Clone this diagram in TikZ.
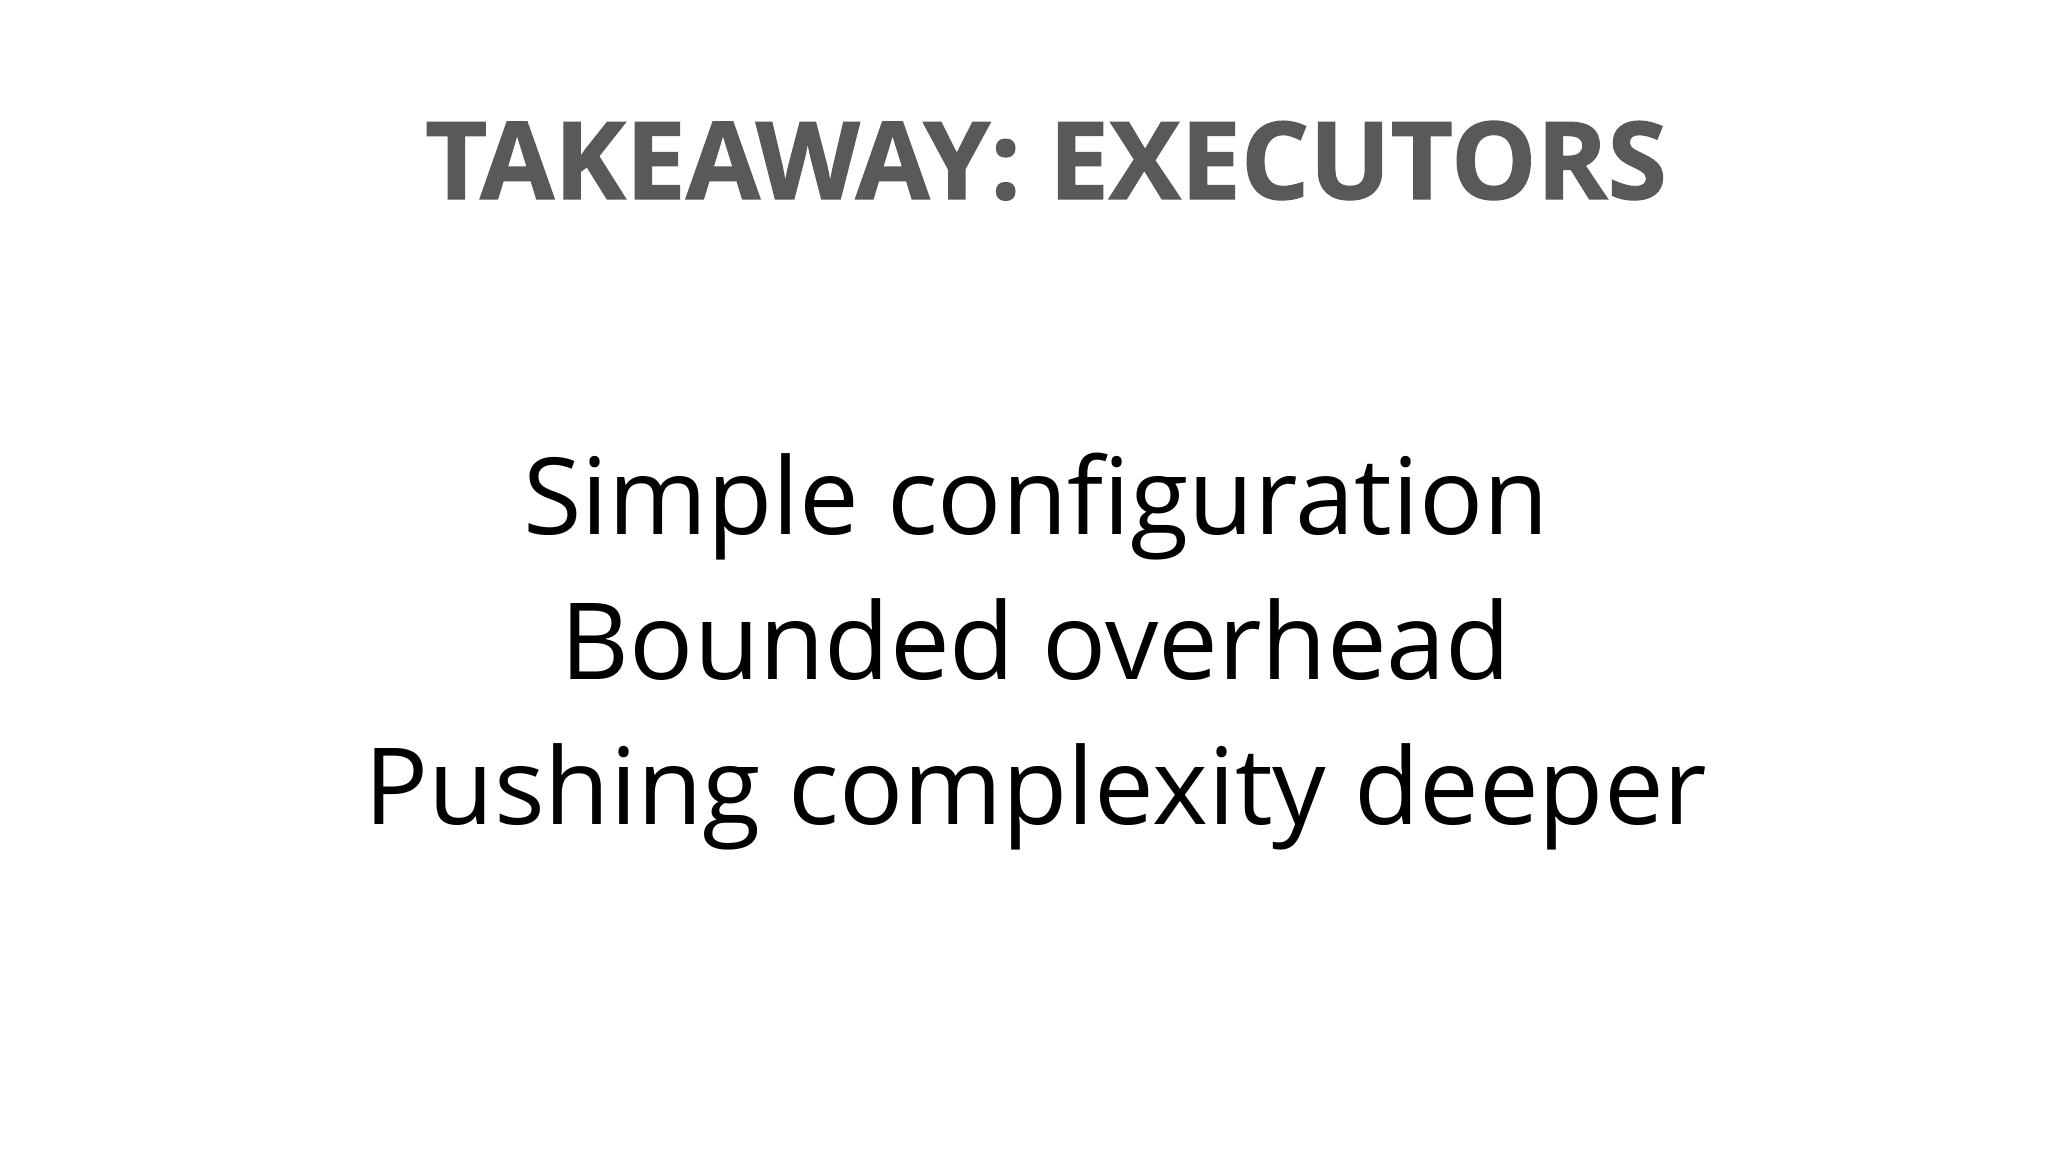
\documentclass[tikz,border=0pt]{standalone}
\usepackage{fontspec}
\setmainfont{Open Sans}
\newfontfamily\titlefont[FakeBold=1.2]{Open Sans Bold}
\definecolor{titlegray}{HTML}{595959}
\begin{document}
\begin{tikzpicture}
\useasboundingbox (0,0) rectangle (20.48,11.52);
\tikzset{titlestyle/.style={anchor=base,text=titlegray,font=\titlefont\fontsize{30.6}{36}\selectfont},
bodystyle/.style={anchor=base,text=black,font=\fontsize{30.3}{38}\selectfont}}
\node[titlestyle] (title) at (10.46,9.53) {TAKEAWAY: EXECUTORS};
\node[bodystyle] (l1) at (10.36,6.17) {Simple configuration};
\node[bodystyle] (l2) at (10.36,4.72) {Bounded overhead};
\node[bodystyle] (l3) at (10.36,3.27) {Pushing complexity deeper};
\end{tikzpicture}
\end{document}
